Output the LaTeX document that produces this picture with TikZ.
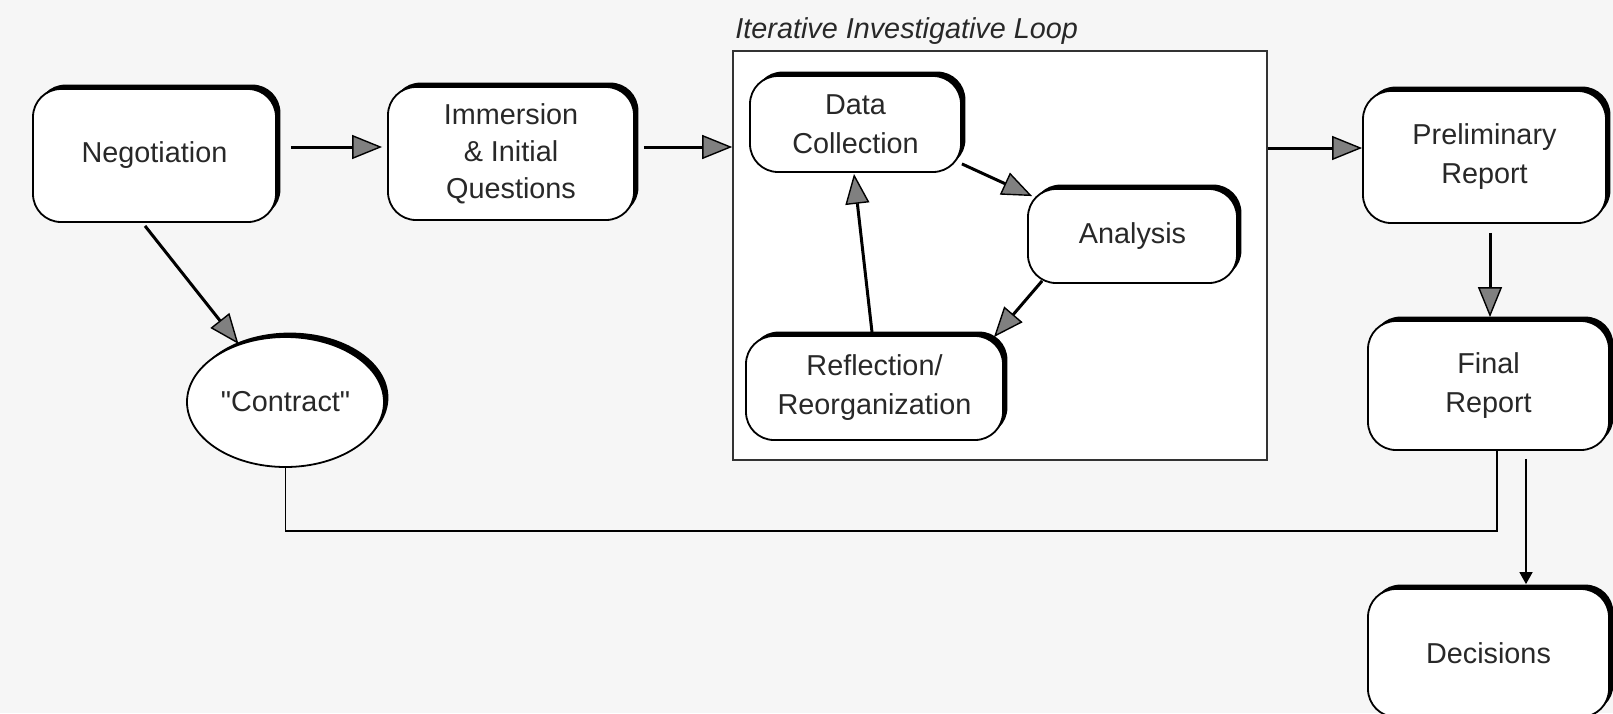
\documentclass[tikz,border=0pt]{standalone}
\usepackage{fontspec}
\setmainfont{Liberation Sans}
\usetikzlibrary{arrows.meta,shapes.geometric,shadows}
\definecolor{bg}{RGB}{246,246,246}
\definecolor{txt}{RGB}{40,40,40}
\newcommand{\fsz}{\fontsize{14.4}{19.5}\selectfont}
\begin{document}
\begin{tikzpicture}[x=0.5pt,y=-0.5pt,
  shad/.style={drop shadow={shadow xshift=2.2pt, shadow yshift=2.2pt, fill=black, opacity=1}},
  box/.style={shad, draw=black, line width=0.9pt, fill=white, rounded corners=14pt,
    align=center, font=\fsz, text=txt, inner sep=0pt},
  oval/.style={shad, ellipse, draw=black, line width=0.9pt, fill=white,
    align=center, font=\fsz, text=txt, inner sep=0pt},
  conn/.style={line width=1.5pt, -{Triangle[length=15pt,width=12pt,fill=black!50,line width=0.7pt]}},
  thinline/.style={line width=0.8pt},
  thinarrow/.style={line width=0.8pt, -{Triangle[length=6pt,width=6.5pt]}},
]
\clip (0,0) rectangle (1613,713);
\fill[bg] (0,0) rectangle (1613,713);

% loop frame
\node[draw=black!80, line width=0.8pt, fill=white, minimum width=267pt, minimum height=204.5pt, inner sep=0pt] (loop) at (1000,255.5) {};
\node[font=\fsz\itshape, text=txt, anchor=base west, inner sep=0pt] (ttl) at (735,38) {Iterative Investigative Loop};

% nodes
\node[box, minimum width=121.5pt, minimum height=66.5pt] (neg) at (154.5,155.5) {Negotiation};
\node[box, minimum width=123pt, minimum height=66.5pt] (imm) at (511,153.5) {Immersion\\[-1pt]\& Initial\\[-1pt]Questions};
\node[box, minimum width=105.5pt, minimum height=48pt] (dc) at (855.5,124) {Data\\Collection};
\node[box, minimum width=104.5pt, minimum height=47pt] (an) at (1132.5,236) {Analysis};
\node[box, minimum width=128.5pt, minimum height=52pt] (ref) at (874.5,388) {Reflection/\\Reorganization};
\node[box, minimum width=121.5pt, minimum height=66pt] (pre) at (1484.5,157) {Preliminary\\Report};
\node[box, minimum width=120.5pt, minimum height=64.5pt] (fin) at (1488.5,385.5) {Final\\Report};
\node[box, minimum width=120.5pt, minimum height=64pt] (dec) at (1488.5,653) {Decisions};
\node[oval, minimum width=98.5pt, minimum height=65pt] (con) at (285.5,402) {\addfontfeature{Ligatures=TeXOff}"Contract"};

% connectors
\draw[conn] ([shift={(14,-8.5)}]neg.east) -- ([shift={(-5,-6.5)}]imm.west);
\draw[conn] ([shift={(9,-6.5)}]imm.east) -- ([shift={(0,-108.5)}]loop.west);
\draw[conn] ([shift={(0,-107.5)}]loop.east) -- ([shift={(0,-9)}]pre.west);
\draw[conn] ([shift={(5.5,9)}]pre.south) -- ([shift={(1.5,-3)}]fin.north);
\draw[conn] ([shift={(-9.5,3)}]neg.south) -- (con.129);
\draw[conn] ([shift={(0,-9)}]dc.south east) -- ([shift={(5,8)}]an.north west);
\draw[conn] ([shift={(15,-3)}]an.south west) -- ([shift={(-10,2)}]ref.north east);
\draw[conn] ([shift={(-2.5,-3)}]ref.north) -- ([shift={(-1.5,1)}]dc.south);
\draw[thinarrow] ([shift={(37.5,8)}]fin.south) -- ([shift={(37.5,-4)}]dec.north);
\draw[thinline] (con.south) -- ++(0,63) -| ([shift={(8.5,0)}]fin.south);
\end{tikzpicture}
\end{document}
